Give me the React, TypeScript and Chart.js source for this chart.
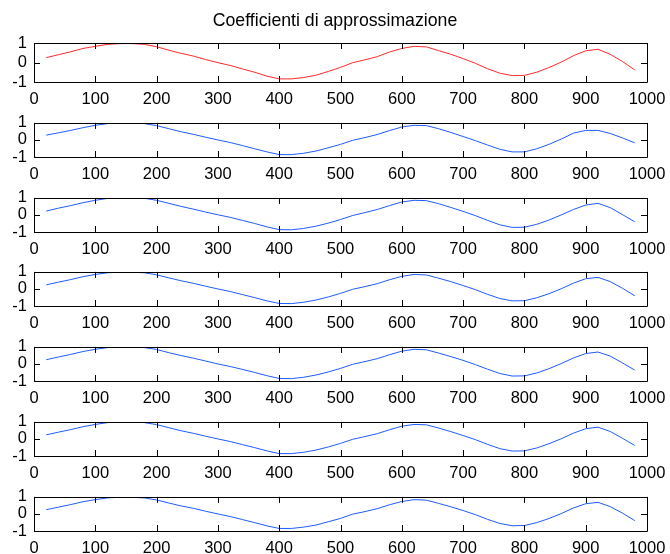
import React, { useEffect, useRef } from "react";
import { Chart, registerables } from "chart.js";

Chart.register(...registerables);

// Sample positions shared by every level
const SAMPLES = [
  20, 40, 60, 80, 100, 120, 140, 160, 180, 200,
  220, 240, 260, 280, 300, 320, 340, 360, 380, 400,
  420, 440, 460, 480, 500, 520, 540, 560, 580, 600,
  620, 640, 660, 680, 700, 720, 740, 760, 780, 800,
  820, 840, 860, 880, 900, 920, 940, 960, 980,
];

// Approximation coefficients, one array per level
const LEVEL_1 = [
  0.25, 0.40, 0.55, 0.72, 0.83, 0.93, 0.97, 0.97, 0.93, 0.81,
  0.63, 0.47, 0.33, 0.15, -0.01, -0.15, -0.33, -0.50, -0.70, -0.84,
  -0.84, -0.77, -0.65, -0.46, -0.25, -0.01, 0.14, 0.30, 0.54, 0.72,
  0.83, 0.80, 0.61, 0.42, 0.20, -0.04, -0.32, -0.55, -0.67, -0.66,
  -0.50, -0.26, 0.02, 0.35, 0.60, 0.68, 0.42, 0.05, -0.38,
];
const LEVEL_2 = [
  0.28, 0.42, 0.56, 0.72, 0.86, 0.96, 1.0, 1.0, 0.96, 0.84,
  0.66, 0.48, 0.33, 0.16, 0.0, -0.15, -0.33, -0.52, -0.70, -0.86,
  -0.86, -0.78, -0.65, -0.46, -0.26, -0.02, 0.14, 0.32, 0.55, 0.76,
  0.86, 0.84, 0.66, 0.44, 0.20, -0.04, -0.30, -0.55, -0.70, -0.70,
  -0.52, -0.26, 0.05, 0.40, 0.56, 0.56, 0.38, 0.12, -0.17,
];
const LEVEL_3 = [
  0.23, 0.40, 0.55, 0.72, 0.86, 0.97, 1.0, 1.0, 0.98, 0.86,
  0.68, 0.50, 0.34, 0.17, 0.01, -0.14, -0.32, -0.50, -0.70, -0.86,
  -0.87, -0.79, -0.66, -0.48, -0.27, -0.03, 0.14, 0.32, 0.55, 0.76,
  0.86, 0.84, 0.66, 0.44, 0.21, -0.04, -0.32, -0.58, -0.73, -0.72,
  -0.55, -0.30, 0.0, 0.32, 0.58, 0.68, 0.43, 0.02, -0.40,
];
const LEVEL_4 = [
  0.24, 0.40, 0.55, 0.72, 0.85, 0.95, 0.98, 0.98, 0.95, 0.83,
  0.65, 0.48, 0.33, 0.16, 0.0, -0.15, -0.33, -0.51, -0.70, -0.85,
  -0.86, -0.78, -0.65, -0.47, -0.26, -0.02, 0.14, 0.31, 0.54, 0.74,
  0.85, 0.82, 0.63, 0.43, 0.20, -0.04, -0.32, -0.56, -0.70, -0.69,
  -0.52, -0.28, 0.01, 0.34, 0.60, 0.68, 0.43, 0.04, -0.40,
];
const LEVEL_5 = [
  0.25, 0.41, 0.56, 0.73, 0.86, 0.96, 1.0, 1.0, 0.96, 0.85,
  0.66, 0.49, 0.34, 0.17, 0.0, -0.15, -0.32, -0.50, -0.69, -0.85,
  -0.86, -0.78, -0.65, -0.47, -0.26, -0.02, 0.14, 0.31, 0.54, 0.75,
  0.86, 0.83, 0.64, 0.43, 0.21, -0.04, -0.31, -0.56, -0.71, -0.70,
  -0.53, -0.28, 0.02, 0.35, 0.61, 0.70, 0.46, 0.06, -0.36,
];
const LEVEL_6 = [
  0.24, 0.40, 0.55, 0.72, 0.85, 0.96, 0.99, 0.99, 0.96, 0.84,
  0.66, 0.48, 0.33, 0.16, 0.0, -0.15, -0.33, -0.51, -0.70, -0.86,
  -0.86, -0.78, -0.65, -0.47, -0.26, -0.02, 0.14, 0.31, 0.54, 0.75,
  0.85, 0.83, 0.64, 0.43, 0.20, -0.04, -0.32, -0.57, -0.71, -0.70,
  -0.53, -0.28, 0.01, 0.34, 0.60, 0.69, 0.44, 0.04, -0.38,
];
const LEVEL_7 = [
  0.25, 0.40, 0.55, 0.72, 0.84, 0.94, 0.98, 0.98, 0.94, 0.82,
  0.64, 0.47, 0.33, 0.16, 0.0, -0.15, -0.33, -0.51, -0.70, -0.85,
  -0.85, -0.77, -0.65, -0.46, -0.26, -0.01, 0.14, 0.31, 0.54, 0.73,
  0.84, 0.81, 0.62, 0.42, 0.20, -0.04, -0.32, -0.56, -0.69, -0.68,
  -0.51, -0.27, 0.02, 0.35, 0.60, 0.68, 0.43, 0.05, -0.39,
];

const LEVELS = [LEVEL_1, LEVEL_2, LEVEL_3, LEVEL_4, LEVEL_5, LEVEL_6, LEVEL_7];
const LINE_COLORS = ["#ff2a2a", "#1f5bff", "#1f5bff", "#1f5bff", "#1f5bff", "#1f5bff", "#1f5bff"];

const TITLE = "Coefficienti di approssimazione";
const X_MIN = 0;
const X_MAX = 1000;
const X_STEP = 100;
const Y_MIN = -1;
const Y_MAX = 1;
const Y_STEP = 1;

const WIDTH = 670;
const FONT = "'Liberation Sans', Arial, Helvetica, sans-serif";
const PLOT_TOP = 43;
const PLOT_PITCH = 74.83;
const PLOT_HEIGHT = 39;
const TOP_GAP = 12;
const X_AXIS_HEIGHT = 30;
const PLOT_LEFT = 34;
const RIGHT_GAP = 23;
const TICK_LEN = 6;

// Draws the box and inward tick marks on all four sides
const boxPlugin = {
  id: "matlabBox",
  afterDatasetsDraw(chart: any) {
    const { ctx, chartArea } = chart;
    const xs = chart.scales.x;
    const ys = chart.scales.y;
    const { left, right, top, bottom } = chartArea;
    ctx.save();
    ctx.strokeStyle = "#000";
    ctx.lineWidth = 1;
    ctx.beginPath();
    ctx.rect(Math.round(left) + 0.5, Math.round(top) + 0.5, Math.round(right - left), Math.round(bottom - top));
    ctx.stroke();
    ctx.beginPath();
    xs.ticks.forEach((t: any) => {
      const px = Math.round(xs.getPixelForValue(t.value)) + 0.5;
      ctx.moveTo(px, bottom);
      ctx.lineTo(px, bottom - TICK_LEN);
      ctx.moveTo(px, top);
      ctx.lineTo(px, top + TICK_LEN);
    });
    ys.ticks.forEach((t: any) => {
      const py = Math.round(ys.getPixelForValue(t.value)) + 0.5;
      ctx.moveTo(left, py);
      ctx.lineTo(left + TICK_LEN, py);
      ctx.moveTo(right, py);
      ctx.lineTo(right - TICK_LEN, py);
    });
    ctx.stroke();
    ctx.restore();
  },
};

function Subplot({ index }: { index: number }) {
  const ref = useRef<HTMLCanvasElement | null>(null);
  const boxTop = Math.round(PLOT_TOP + index * PLOT_PITCH);
  const withTitle = index === 0;
  const canvasTop = withTitle ? 0 : boxTop - TOP_GAP;
  const height = boxTop - canvasTop + PLOT_HEIGHT + X_AXIS_HEIGHT;

  useEffect(() => {
    if (!ref.current) return;
    const values = LEVELS[index];
    const chart = new Chart(ref.current, {
      type: "line",
      data: {
        datasets: [
          {
            data: SAMPLES.map((x, k) => ({ x, y: values[k] })),
            borderColor: LINE_COLORS[index],
            borderWidth: 1,
            pointRadius: 0,
            tension: 0,
            fill: false,
          },
        ],
      },
      options: {
        animation: false,
        responsive: false,
        devicePixelRatio: 1,
        events: [],
        layout: {
          padding: { top: withTitle ? 0 : TOP_GAP, left: 0, right: 0, bottom: 0 },
        },
        plugins: {
          legend: { display: false },
          tooltip: { enabled: false },
          title: {
            display: withTitle,
            text: TITLE,
            color: "#000",
            font: { family: FONT, size: 17.7, weight: "normal", lineHeight: 1.2 },
            padding: { top: 10, bottom: boxTop - 10 - 17.7 * 1.2 },
          },
        },
        scales: {
          x: {
            type: "linear",
            min: X_MIN,
            max: X_MAX,
            grid: { display: false, drawTicks: false },
            border: { display: false },
            ticks: {
              stepSize: X_STEP,
              color: "#000",
              padding: 8,
              maxRotation: 0,
              autoSkip: false,
              font: { family: FONT, size: 16.5 },
              callback: (v: any) => String(v),
            },
            afterFit: (scale: any) => {
              scale.height = X_AXIS_HEIGHT;
              scale.paddingLeft = 0;
              scale.paddingRight = RIGHT_GAP;
            },
          },
          y: {
            type: "linear",
            min: Y_MIN,
            max: Y_MAX,
            grid: { display: false, drawTicks: false },
            border: { display: false },
            ticks: {
              stepSize: Y_STEP,
              color: "#000",
              padding: 7,
              autoSkip: false,
              font: { family: FONT, size: 16.5 },
              callback: (v: any) => String(v),
            },
            afterFit: (scale: any) => {
              scale.width = PLOT_LEFT;
            },
          },
        },
      },
      plugins: [boxPlugin],
    });
    return () => chart.destroy();
  }, [index]);

  return (
    <canvas
      ref={ref}
      width={WIDTH}
      height={height}
      style={{ position: "absolute", left: 0, top: canvasTop, width: WIDTH, height }}
    />
  );
}

export default function App() {
  return (
    <div
      style={{
        position: "fixed",
        left: 0,
        top: 0,
        width: WIDTH,
        height: 554,
        background: "#fff",
        overflow: "hidden",
      }}
    >
      {LEVELS.map((_, i) => (
        <Subplot key={i} index={i} />
      ))}
    </div>
  );
}
